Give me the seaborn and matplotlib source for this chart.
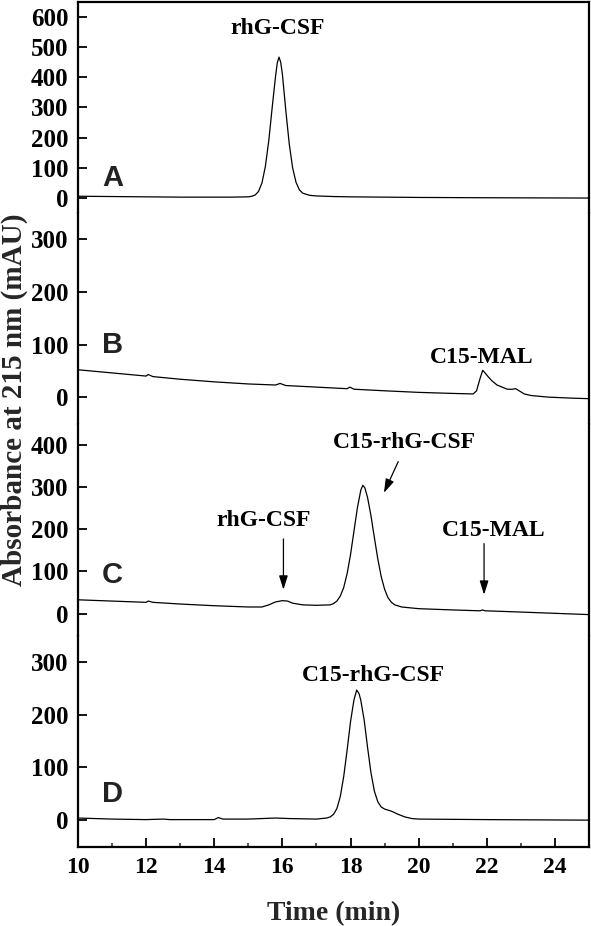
import numpy as np
import pandas as pd
import matplotlib
matplotlib.use('Agg')
import matplotlib.pyplot as plt
import seaborn as sns
from matplotlib.ticker import MultipleLocator

# -----------------------------------------------
# Data (time in min, absorbance in mAU)
# -----------------------------------------------
a_time = [10, 11, 12, 13, 14, 14.5, 15.0, 15.1, 15.2, 15.3, 15.4, 15.5, 15.6, 15.7, 15.8,
          15.85, 15.9, 15.95, 16.0, 16.1, 16.2, 16.3, 16.4, 16.5, 16.6, 16.8, 17.0, 17.5,
          18, 19, 20, 22, 25]
a_abs = [6, 5, 4, 3, 3, 3, 4, 6, 10, 22, 50, 105, 190, 300, 405,
         448, 467, 450, 410, 290, 180, 100, 52, 27, 16, 9, 7, 5,
         4, 3, 2, 1, 0]

b_time = [10, 10.5, 11, 11.5, 12.0, 12.06, 12.2, 13, 14, 15, 15.8, 15.93, 16.1, 17,
          17.9, 17.98, 18.1, 19, 20, 21, 21.6, 21.7, 21.8, 21.88, 21.95, 22.05, 22.15,
          22.3, 22.45, 22.6, 22.75, 22.85, 22.95, 23.1, 23.3, 23.8, 24.5, 25]
b_abs = [52, 49, 46, 43, 40, 43, 39, 34, 29, 25, 23, 26, 22, 19,
         16, 19, 15, 12, 9, 7, 6, 12, 35, 51, 46, 38, 31,
         23, 19, 15, 15, 16, 12, 6, 3, 0, -2, -3]

c_time = [10, 11, 12.0, 12.06, 12.2, 13, 14, 15, 15.4, 15.6, 15.8, 16.0, 16.15, 16.3,
          16.6, 17.0, 17.4, 17.5, 17.6, 17.7, 17.8, 17.9, 18.0, 18.1, 18.2, 18.3, 18.36,
          18.42, 18.5, 18.6, 18.7, 18.8, 18.9, 19.0, 19.1, 19.2, 19.3, 19.5, 20, 21,
          21.8, 21.87, 21.95, 23, 24, 25]
c_abs = [33, 30, 27, 30, 27, 23, 19, 16, 16, 21, 28, 31, 30, 25,
         21, 20, 21, 24, 30, 42, 62, 95, 140, 195, 250, 292, 304,
         298, 275, 232, 180, 130, 88, 58, 38, 27, 21, 16, 12, 9,
         7, 9, 7, 4, 1, -2]

d_time = [10, 11, 12, 12.5, 12.7, 13, 14.0, 14.12, 14.25, 15, 15.8, 16.2, 17, 17.3,
          17.4, 17.5, 17.6, 17.7, 17.8, 17.9, 18.0, 18.1, 18.18, 18.25, 18.3, 18.4, 18.5,
          18.6, 18.7, 18.8, 18.9, 19.0, 19.2, 19.4, 19.6, 19.8, 20, 22, 25]
d_abs = [4, 2, 1, 2, 1, 1, 1, 5, 2, 2, 4, 3, 2, 4,
         6, 11, 22, 45, 83, 133, 187, 228, 247, 240, 228, 190, 138,
         90, 55, 35, 25, 21, 17, 11, 6, 3, 2, 1, 0]

panel_names = ['A', 'B', 'C', 'D']
panel_ylims = [(-50, 650), (-52, 350), (-52, 448), (-51, 350)]
panel_ymax_tick = [600, 300, 400, 300]
panel_letter_y = [39, 83, 73, 35]

traces = pd.concat([
    pd.DataFrame({'panel': p, 'time': t, 'abs': v})
    for p, t, v in zip(panel_names, [a_time, b_time, c_time, d_time],
                       [a_abs, b_abs, c_abs, d_abs])
])

# -----------------------------------------------
# Style
# -----------------------------------------------
sns.set_theme(style='ticks')
plt.rcParams['font.family'] = ['Liberation Serif', 'DejaVu Serif']
plt.rcParams['font.weight'] = 'bold'

fig, axes = plt.subplots(4, 1, sharex=True, figsize=(5.91, 9.26), dpi=100)
fig.subplots_adjust(left=0.132, right=0.9966, top=0.998, bottom=0.0853, hspace=0)

for i, (ax, name) in enumerate(zip(axes, panel_names)):
    sub = traces[traces['panel'] == name]
    sns.lineplot(data=sub, x='time', y='abs', ax=ax, color='black', lw=0.9,
                 estimator=None, sort=False)
    ax.set_xlim(10, 25)
    ax.set_ylim(*panel_ylims[i])
    ax.set_yticks(np.arange(0, panel_ymax_tick[i] + 1, 100))
    ax.set_xlabel('')
    ax.set_ylabel('')
    for side in ['left', 'right', 'top', 'bottom']:
        ax.spines[side].set_linewidth(1.6)
        ax.spines[side].set_color('black')
    ax.spines['top'].set_visible(i == 0)
    ax.spines['bottom'].set_visible(i == 3)
    ax.tick_params(axis='y', direction='in', length=6.5, width=1.3, pad=7,
                   labelsize=18, colors='black')
    for lab in ax.get_yticklabels():
        lab.set_fontweight('bold')
    ax.text(10.7, panel_letter_y[i], name, family='Liberation Sans', fontweight='bold',
            fontsize=21, va='baseline', ha='left', color='#222222')
    if i < 3:
        ax.tick_params(axis='x', which='both', bottom=False, top=False, labelbottom=False)

ax_d = axes[3]
ax_d.xaxis.set_major_locator(MultipleLocator(2))
ax_d.xaxis.set_minor_locator(MultipleLocator(1))
ax_d.tick_params(axis='x', which='major', direction='in', length=6.5, width=1.3, pad=7,
                 labelsize=17, colors='black', bottom=True)
ax_d.tick_params(axis='x', which='minor', direction='in', length=3.2, width=1.1, bottom=True)
ax_d.set_xticks(np.arange(10, 25, 2))
for lab in ax_d.get_xticklabels():
    lab.set_fontweight('bold')

# -----------------------------------------------
# Peak annotations
# -----------------------------------------------
lab_kw = dict(fontsize=17, fontweight='bold', ha='center', va='baseline', color='black')
axes[0].text(15.85, 545, 'rhG-CSF', **lab_kw)
axes[1].text(21.85, 65, 'C15-MAL', **lab_kw)
axes[2].text(19.58, 393, 'C15-rhG-CSF', **lab_kw)
axes[2].text(15.46, 207, 'rhG-CSF', **lab_kw)
axes[2].text(22.19, 185, 'C15-MAL', **lab_kw)
axes[3].text(18.67, 265, 'C15-rhG-CSF', **lab_kw)

arrow_kw = dict(arrowstyle='-|>,head_length=0.7,head_width=0.22', color='black', lw=0.9,
                shrinkA=0, shrinkB=0)
axes[2].annotate('', xy=(18.98, 286), xytext=(19.40, 360), arrowprops=arrow_kw)
axes[2].annotate('', xy=(16.03, 57), xytext=(16.03, 177), arrowprops=arrow_kw)
axes[2].annotate('', xy=(21.92, 45), xytext=(21.92, 166), arrowprops=arrow_kw)

fig.text(0.0237, 0.568, 'Absorbance at 215 nm (mAU)', rotation=90, ha='center',
         va='center', fontsize=21, fontweight='bold')
fig.text(0.564, 0.0135, 'Time (min)', ha='center', va='center', fontsize=20,
         fontweight='bold')

fig.savefig('out.png', dpi=100)
